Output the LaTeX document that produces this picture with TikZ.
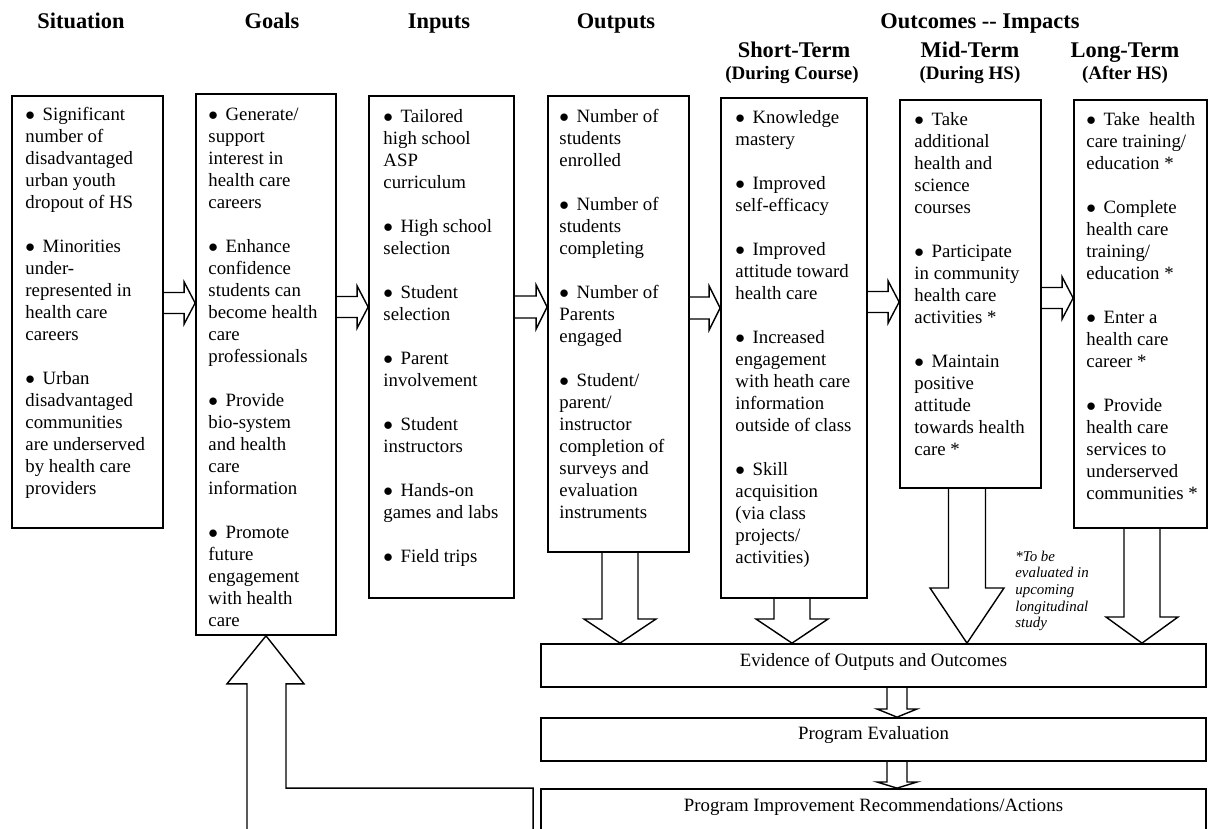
\documentclass[tikz,border=0pt]{standalone}
\usepackage{fontspec}
\setmainfont{Liberation Serif}
\usepackage{tikz}
\usetikzlibrary{calc,positioning}

\newcommand{\bodyfont}{\fontsize{10.7}{12.52}\selectfont}
\newcommand{\bul}{$\bullet$\hspace{.4em}}
% block arrow between two columns: from, to, centre y, half shaft
\newcommand{\harr}[4]{%
  \draw [blk] ($(#1.east |- 0,#3)+(0,-#4)$) -- ($(#2.west |- 0,#3)+(-11,-#4)$)
    -- ($(#2.west |- 0,#3)+(-11,-2*#4)$) -- (#2.west |- 0,#3)
    -- ($(#2.west |- 0,#3)+(-11,2*#4)$) -- ($(#2.west |- 0,#3)+(-11,#4)$)
    -- ($(#1.east |- 0,#3)+(0,#4)$);}
% block arrow downwards: from, to, centre x, head base y, half shaft
\newcommand{\varr}[5]{%
  \draw [blk] ($(#1.south -| #3,0)+(-#5,0)$) -- ($(#3,#4)+(-#5,0)$)
    -- ($(#3,#4)+(-2*#5,0)$) -- (#2.north -| #3,0)
    -- ($(#3,#4)+(2*#5,0)$) -- ($(#3,#4)+(#5,0)$)
    -- ($(#1.south -| #3,0)+(#5,0)$);}

\tikzset{
    box/.style={draw, line width=1pt, inner sep=0pt},
    txt/.style={anchor=north west, inner sep=0pt, align=left, font=\bodyfont},
    head/.style={anchor=base, inner sep=0pt,
        font=\fontsize{12.75}{15}\selectfont\bfseries},
    subhead/.style={anchor=base, inner sep=0pt,
        font=\fontsize{10.8}{13}\selectfont\bfseries},
    bartext/.style={anchor=base, inner sep=0pt, font=\bodyfont},
    blk/.style={draw, line width=.8pt, line join=miter},
    footnote/.style={anchor=north west, inner sep=0pt, align=left,
        font=\fontsize{8.5}{9.5}\selectfont\itshape},
}

\begin{document}
\begin{tikzpicture}[x=0.02cm, y=-0.02cm]
    \useasboundingbox (0,0) rectangle (1208,829);
    \clip (0,0) rectangle (1208,829);

    % headings
    \node [head] (hsit) at (81,28) {Situation};
    \node [head] (hgoal) at (272,28) {Goals};
    \node [head] (hin) at (439,28) {Inputs};
    \node [head] (hout) at (616,28) {Outputs};
    \node [head] (hoc) at (980,28) {Outcomes -{}- Impacts};
    \node [head] (hshort) at (794,57) {Short-Term};
    \node [subhead] (sshort) at (792,79) {(During Course)};
    \node [head] (hmid) at (970,57) {Mid-Term};
    \node [subhead] (smid) at (970,79) {(During HS)};
    \node [head] (hlong) at (1125,57) {Long-Term};
    \node [subhead] (slong) at (1125,79) {(After HS)};

    % columns
    \node [box, minimum width=3.02cm, minimum height=8.64cm] (sit) at (87.5,312) {};
    \node [box, minimum width=2.80cm, minimum height=10.82cm] (goals) at (266,364.5) {};
    \node [box, minimum width=2.90cm, minimum height=10.04cm] (inputs) at (441.5,347) {};
    \node [box, minimum width=2.82cm, minimum height=9.12cm] (outputs) at (618.5,324) {};
    \node [box, minimum width=2.92cm, minimum height=10.00cm] (short) at (794,348) {};
    \node [box, minimum width=2.82cm, minimum height=7.76cm] (mid) at (970.5,294) {};
    \node [box, minimum width=2.66cm, minimum height=8.56cm] (long) at (1140.5,314) {};

    \node [txt] (tsit) at ([shift={(14,10)}]sit.north west) {\strut\bul Significant\\ number of\\
        disadvantaged\\ urban youth\\ dropout of HS\\[12.52pt]
        \bul Minorities\\ under-\\ represented in\\ health care\\ careers\\[12.52pt]
        \bul Urban\\ disadvantaged\\ communities\\ are underserved\\ by health care\\ providers};
    \node [txt] (tgoals) at ([shift={(13,12)}]goals.north west) {\strut\bul Generate/\\ support\\
        interest in\\ health care\\ careers\\[12.52pt]
        \bul Enhance\\ confidence\\ students can\\ become health\\ care\\ professionals\\[12.52pt]
        \bul Provide\\ bio-system\\ and health\\ care\\ information\\[12.52pt]
        \bul Promote\\ future\\ engagement\\ with health\\ care};
    \node [txt] (tinputs) at ([shift={(15,11.5)}]inputs.north west) {\strut\bul Tailored\\
        high school\\ ASP\\ curriculum\\[12.52pt]
        \bul High school\\ selection\\[12.52pt]
        \bul Student\\ selection\\[12.52pt]
        \bul Parent\\ involvement\\[12.52pt]
        \bul Student\\ instructors\\[12.52pt]
        \bul Hands-on\\ games and labs\\[12.52pt]
        \bul Field trips};
    \node [txt] (toutputs) at ([shift={(12,11.5)}]outputs.north west) {\strut\bul Number of\\
        students\\ enrolled\\[12.52pt]
        \bul Number of\\ students\\ completing\\[12.52pt]
        \bul Number of\\ Parents\\ engaged\\[12.52pt]
        \bul Student/\\ parent/\\ instructor\\ completion of\\ surveys and\\ evaluation\\ instruments};
    \node [txt] (tshort) at ([shift={(15,10.5)}]short.north west) {\strut\bul Knowledge\\
        mastery\\[12.52pt]
        \bul Improved\\ self-efficacy\\[12.52pt]
        \bul Improved\\ attitude toward\\ health care\\[12.52pt]
        \bul Increased\\ engagement\\ with heath care\\ information\\ outside of class\\[12.52pt]
        \bul Skill\\ acquisition\\ (via class\\ projects/\\ activities)};
    \node [txt] (tmid) at ([shift={(15,10.5)}]mid.north west) {\strut\bul Take\\ additional\\
        health and\\ science\\ courses\\[12.52pt]
        \bul Participate\\ in community\\ health care\\ activities *\\[12.52pt]
        \bul Maintain\\ positive\\ attitude\\ towards health\\ care *};
    \node [txt] (tlong) at ([shift={(13,10.5)}]long.north west) {\strut\bul Take~ health\\
        care training/\\ education *\\[12.52pt]
        \bul Complete\\ health care\\ training/\\ education *\\[12.52pt]
        \bul Enter a\\ health care\\ career *\\[12.52pt]
        \bul Provide\\ health care\\ services to\\ underserved\\ communities *};

    % evaluation bars
    \node [box, minimum width=13.30cm, minimum height=0.86cm] (evid) at (873.5,665.5) {};
    \node [box, minimum width=13.30cm, minimum height=0.86cm] (eval) at (873.5,739.5) {};
    \node [box, minimum width=13.30cm, minimum height=1.22cm] (impr) at (873.5,819.5) {};
    \node [bartext] (tevid) at ($(evid.north)+(0,23)$) {Evidence of Outputs and Outcomes};
    \node [bartext] (teval) at ($(eval.north)+(0,22)$) {Program Evaluation};
    \node [bartext] (timpr) at ($(impr.north)+(0,23)$) {Program Improvement Recommendations/Actions};

    \node [footnote] (note) at (1015,549) {\strut*To be\\ evaluated in\\ upcoming\\ longitudinal\\ study};

    % arrows
    \harr{sit}{goals}{303}{10.5}
    \harr{goals}{inputs}{307}{10.5}
    \harr{inputs}{outputs}{307}{11}
    \harr{outputs}{short}{308}{11}
    \harr{short}{mid}{302}{10.5}
    \harr{mid}{long}{298}{10.5}

    \varr{outputs}{evid}{620}{619}{18}
    \varr{short}{evid}{792}{619}{18}
    \varr{mid}{evid}{967}{588}{18.5}
    \varr{long}{evid}{1142}{617}{18}
    \varr{evid}{eval}{897}{709}{10}
    \varr{eval}{impr}{897}{782}{10}

    % feedback to goals
    \coordinate (fb) at ($(goals.south |- impr.north)+(20,0)$);
    \draw [blk] ($(goals.south)+(-19,220)$) -- ++(0,-172) -- ++(-20,0) -- (goals.south)
        -- ++(38,48) -- ++(-18,0) -- (fb) -- ($(impr.west |- fb)+(-7,0)$) -- ++(0,60);
\end{tikzpicture}
\end{document}
